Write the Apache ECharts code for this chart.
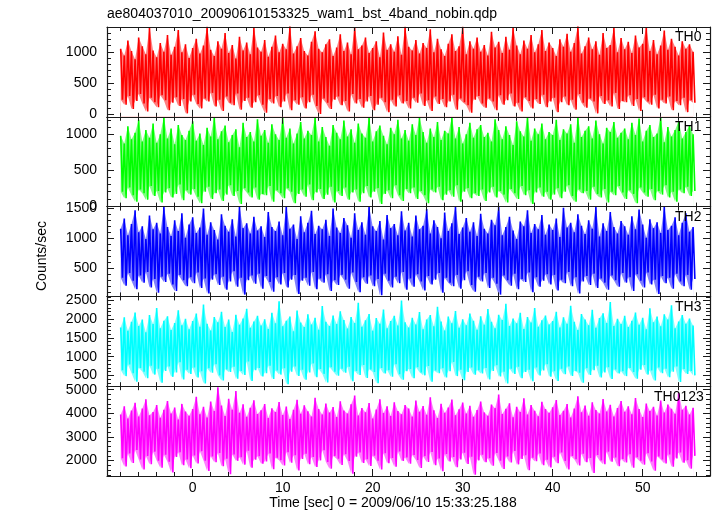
<!DOCTYPE html>
<html><head><meta charset="utf-8">
<script src="https://cdn.jsdelivr.net/npm/echarts@6/dist/echarts.min.js"></script>
<style>html,body{margin:0;padding:0;background:#fff}#c{width:717px;height:516px}</style>
</head><body><div id="c"></div>
<script>
const chartTitle = 'ae804037010_20090610153325_wam1_bst_4band_nobin.qdp';
const xTitle = 'Time [sec] 0 = 2009/06/10 15:33:25.188';
const yTitle = 'Counts/sec';
const panelNames = ['TH0', 'TH1', 'TH2', 'TH3', 'TH0123'];
const panelColors = ['#ff0000', '#00ff00', '#0000ff', '#00ffff', '#ff00ff'];
const startTime = -8;
const binSize = 0.2;

// peak (hi) and trough (lo) values of each time bin pair
const th0Hi = [1050,940,1180,1010,880,1230,1090,960,1390,1020,910,1140,1000,1270,950,1080,1350,990,1120,900,
1060,1210,970,1100,1400,1030,930,1170,1050,1300,980,1110,890,1240,1020,1150,960,1380,1070,1000,
1190,920,1080,1260,990,1130,1040,1410,970,1090,1220,1010,940,1160,1330,1050,990,1120,1200,930,
1070,1280,1010,1150,960,1390,1040,1100,1230,980,1060,1170,910,1310,1030,1120,1000,1250,950,1400,
1080,1020,1190,970,1140,1060,1360,990,1210,1040,930,1130,1280,1010,1090,1400,960,1170,1050,1230,
1000,1110,940,1320,1070,1160,980,1240,1030,1390,1100,960,1180,1050,1270,990,1120,1350,1010,1150,
1060,930,1200,1080,1290,1000,1140,1410,970,1090,1230,1040,1170,950,1300,1060,1110,1380,990,1220,
1040,1160,980,1260,1070,1130,1390,1010,1190,960,1100,1340,1030,1210,1080,940,1170,1050,1120,1000];
const th0Lo = [230,150,290,80,210,320,170,40,260,190,110,300,220,60,180,270,130,240,10,200,
310,160,90,250,200,340,120,230,50,280,180,140,330,70,210,260,100,190,300,150,
20,240,170,290,110,200,330,60,220,150,270,90,190,310,130,0,250,180,80,230,
280,140,210,40,320,170,240,100,200,290,60,150,260,190,30,230,120,300,170,210,
90,260,180,330,130,220,50,280,160,240,110,200,310,70,250,190,140,20,230,290,
170,100,250,200,60,300,150,220,330,120,180,40,270,210,90,240,160,310,110,200,
260,30,190,280,140,230,70,320,180,100,250,200,10,290,160,220,120,340,80,210,
190,300,130,240,50,270,200,150,310,90,230,170,280,60,210,140,260,30,220,180];

const th1Hi = [980,870,1110,930,1020,1200,900,1060,950,1150,880,1000,1240,940,1080,860,1130,990,920,1050,
1180,910,1010,850,1090,970,1240,930,1040,1120,890,990,1070,820,1160,960,1030,900,1210,980,
1060,880,1140,1000,920,1230,950,1080,870,1010,1170,940,1050,990,1240,900,1100,960,840,1130,
1020,930,1190,970,1070,880,1150,1010,950,1240,900,1040,1120,980,860,1090,1000,1200,940,1060,
910,1140,990,1230,1030,880,1080,960,1170,920,1050,1010,1240,940,1100,870,1000,1160,950,1070,
1130,960,1020,900,1210,1060,930,1110,990,850,1180,1040,970,1240,910,1080,1000,1150,930,1030,
990,1200,920,1070,1010,1140,880,1240,960,1050,1110,940,1190,1000,870,1090,1030,1170,950,1020,
1080,930,1160,990,1220,900,1050,1130,960,1010,1240,890,1100,970,1060,1180,940,1030,1120,1000];
const th1Lo = [200,110,260,150,60,230,180,90,280,140,210,50,190,250,120,170,300,80,220,160,
240,130,40,200,270,100,180,230,70,160,290,140,210,30,250,190,120,260,90,170,
150,280,60,220,180,110,250,200,40,170,230,130,300,80,190,240,100,160,270,50,
210,140,260,90,190,230,60,180,280,120,200,250,30,170,220,110,290,150,70,240,
180,260,100,210,150,40,230,190,270,80,160,220,130,290,60,200,250,110,180,140,
230,70,190,270,120,210,160,50,240,180,100,280,150,220,30,190,260,130,200,90,
160,250,110,200,290,140,60,230,180,210,90,270,170,120,240,50,200,150,280,190,
100,220,170,40,260,190,130,240,80,210,160,290,120,200,60,230,180,270,140,210];

const th2Hi = [1160,1330,1050,1240,1470,1100,1200,990,1380,1150,1260,1080,1530,1190,1040,1300,1120,1420,1010,1230,
1350,1090,1180,1500,1060,1270,1140,980,1400,1210,1110,1320,1030,1530,1170,1250,1080,1360,1130,1200,
1020,1440,1190,1120,1280,1050,1530,1160,1230,990,1370,1100,1260,1460,1070,1210,1150,1310,1040,1500,
1180,1090,1340,1220,1010,1420,1140,1270,1060,1530,1200,1120,1290,980,1390,1170,1240,1050,1450,1130,
1260,1030,1380,1150,1210,1490,1080,1300,1190,1000,1430,1120,1250,1530,1070,1180,1340,1110,1270,1040,
1410,1160,1080,1310,1220,1530,1050,1190,1360,1130,990,1280,1200,1470,1090,1240,1150,1390,1060,1230,
1140,1330,1020,1510,1180,1260,1100,1400,1210,1070,1300,1160,1530,1030,1250,1120,1440,1190,1080,1290,
1200,1060,1370,1150,1480,1230,1010,1320,1170,1270,1090,1530,1140,1210,1350,1050,1260,1420,1110,1190];
const th2Lo = [340,210,420,290,150,380,260,440,180,320,90,360,270,410,230,120,390,300,200,350,
250,430,170,330,80,310,400,220,360,140,280,450,190,340,60,300,380,240,410,160,
370,270,110,350,230,420,180,310,390,70,290,340,210,440,150,330,260,400,120,300,
220,390,310,160,430,270,100,350,240,380,200,320,50,410,290,180,360,250,440,140,
330,190,400,280,130,370,230,310,420,90,340,260,200,390,160,300,450,220,110,360,
280,420,170,340,240,60,380,300,210,410,150,320,270,430,100,350,190,290,400,230,
390,130,310,250,440,200,350,80,280,370,220,410,170,330,260,140,380,300,190,420,
260,350,120,400,290,180,430,230,310,70,370,250,340,160,410,280,200,390,140,320];

const th3Hi = [1780,2050,1690,1930,2180,1820,1990,1650,2110,1870,2300,1760,1960,2080,1710,1900,2240,1840,2010,1730,
1950,2150,1800,2390,1880,1700,2060,1920,2200,1790,1990,1660,2120,1850,2020,2280,1770,1940,2090,1830,
2000,1740,2170,1890,2480,1810,1960,2070,1680,2230,1910,1790,2130,1860,2040,1720,2350,1930,1820,2100,
1870,2210,1980,1750,2060,1900,2440,1800,1970,2140,1690,2030,1880,2260,1760,1950,2090,1830,2500,1920,
1780,2040,1860,2190,1730,1990,2110,1810,2330,1940,1700,2070,1890,2220,1770,2000,1840,2150,1960,1720,
2080,1850,2270,1930,1760,2120,1980,2410,1820,2020,1890,2170,1740,2060,1910,2300,1800,1970,2100,1860,
1950,2200,1780,2050,1880,2360,1930,1710,2140,1990,1840,2250,1770,2030,2160,1900,2460,1820,2010,1870,
2090,1790,1960,2180,1850,2040,1730,2290,1920,2070,1810,2130,1990,2370,1760,1940,2110,1880,2020,1830];
const th3Lo = [640,480,790,560,330,700,600,420,760,520,680,300,620,740,460,580,850,390,650,540,
710,440,610,280,690,570,800,500,360,660,590,730,410,620,510,870,350,640,700,470,
560,760,400,630,520,690,260,600,740,480,650,380,580,820,450,670,540,310,720,600,
490,680,570,730,340,620,510,780,430,660,590,290,700,550,640,460,800,530,380,610,
670,420,720,580,500,750,330,630,560,690,440,610,860,480,650,370,590,710,520,640,
550,700,390,620,770,470,600,280,680,540,730,420,590,650,340,710,500,630,800,460,
610,350,680,530,740,480,620,570,300,690,510,640,760,440,580,720,400,660,550,610,
480,700,590,410,650,780,520,630,360,710,560,680,450,600,740,320,670,540,620,500];

const th0123Hi = [3950,4300,3780,4120,4450,3870,4200,4600,3920,4060,4350,3810,4150,4520,3990,4250,3740,4400,4080,3900,
4180,4700,3960,4280,3820,4500,4100,5100,4330,3890,4620,4150,4950,4020,4380,3850,4240,4550,3970,4130,
4400,3800,4210,4060,4480,3930,4290,3760,4150,4570,3980,4340,4090,3870,4660,4180,3950,4420,4030,4270,
3840,4510,4120,3990,4380,4750,3910,4230,4050,4440,3780,4160,4600,4010,4300,3890,4470,4100,3960,4350,
4200,3860,4540,4070,4310,3940,4680,4130,3800,4410,4020,4250,4580,3920,4170,4460,3990,4320,3850,4140,
4500,4040,3900,4370,4220,4800,3970,4190,4430,3830,4280,4060,4640,3950,4350,4110,3880,4490,4180,4020,
4260,4560,3930,4110,4390,3820,4200,4720,4050,4330,3900,4470,4140,3990,4610,4080,4360,3870,4230,4520,
4070,4300,3960,4650,4180,3840,4420,4100,4280,3910,4540,4030,4370,4190,3980,4860,4150,4320,3950,4240];
const th0123Lo = [2100,1750,2300,1900,2450,2050,1620,2200,1850,2380,2000,1700,2250,1950,1500,2150,2350,1800,2050,1680,
2220,1880,2400,2000,1560,2180,1930,2320,1760,2080,1420,2260,1990,2140,1830,2420,1700,2040,2190,1870,
1960,2300,1640,2120,2020,1790,2360,1910,2230,1580,2070,2290,1850,2150,1730,2010,2440,1940,1660,2200,
2080,1820,2270,1990,1450,2160,2340,1900,2060,1770,2210,2000,1630,2310,1890,2110,1740,2390,1980,2130,
1870,2240,2030,1690,2190,1940,2370,1800,2090,1550,2280,1960,2150,1720,2050,2330,1860,2170,1400,2010,
2250,1930,2100,1780,2320,2000,1650,2180,1920,2410,1840,2070,2230,1590,2120,1970,2300,1810,2040,1710,
2160,1890,2350,1980,1620,2200,2060,1790,2290,1930,2110,1480,2240,2010,1850,2380,1950,2130,1760,2070,
1920,2270,1700,2140,2000,1830,2310,1960,1570,2180,2050,1880,2260,1740,2090,2340,1910,2020,1660,2200];

const xMin = -9.52, xMax = 57.48;
const xMajorTicks = [0, 10, 20, 30, 40, 50];
const xMinorStep = 2;
const yMins = [-45, -7, 30, 210, 1349];
const yMaxs = [1398, 1243, 1530, 2610, 5149];
const yMajorTicks = [[0, 500, 1000], [0, 500, 1000], [500, 1000, 1500], [500, 1000, 1500, 2000, 2500], [2000, 3000, 4000, 5000]];
const yMinorSteps = [100, 100, 100, 100, 200];

const hiSets = [th0Hi, th1Hi, th2Hi, th3Hi, th0123Hi];
const loSets = [th0Lo, th1Lo, th2Lo, th3Lo, th0123Lo];

const FONT = '"Liberation Sans", Arial, Helvetica, sans-serif';
const frameColor = '#1a1a1a';
const gridLeft = 107, gridWidth = 603, gridTop0 = 27, panelH = 89.8;
const plainNum = v => String(v);

function stepTicks(lo, hi, step, exclude) {
  const out = [];
  for (let v = Math.ceil(lo / step) * step; v <= hi; v += step) {
    if (exclude.indexOf(v) < 0) out.push(v);
  }
  return out;
}
const xMinorTicks = stepTicks(-8, 56, xMinorStep, xMajorTicks);

function mkX(gi, pos, ticks, len, showLine, labels) {
  return {
    type: 'value', gridIndex: gi, position: pos, min: xMin, max: xMax, z: 5,
    axisLine: { show: showLine, onZero: false, lineStyle: { color: frameColor, width: 1.2 } },
    axisTick: { show: true, inside: true, length: len, customValues: ticks, lineStyle: { color: frameColor, width: 1 } },
    axisLabel: labels ? { show: true, customValues: labels, formatter: plainNum, margin: 5, fontSize: 14, color: '#000', fontFamily: FONT } : { show: false },
    splitLine: { show: false }
  };
}
function mkY(gi, pos, ticks, len, showLine, labels) {
  return {
    type: 'value', gridIndex: gi, position: pos, min: yMins[gi], max: yMaxs[gi], z: 5,
    axisLine: { show: showLine, onZero: false, lineStyle: { color: frameColor, width: 1.2 } },
    axisTick: { show: true, inside: true, length: len, customValues: ticks, lineStyle: { color: frameColor, width: 1 } },
    axisLabel: labels ? { show: true, customValues: labels, formatter: plainNum, margin: 10, fontSize: 14, color: '#000', fontFamily: FONT } : { show: false },
    splitLine: { show: false }
  };
}

const grids = [], xAxes = [], yAxes = [], series = [], graphics = [];
for (let i = 0; i < 5; i++) {
  grids.push({ left: gridLeft, width: gridWidth, top: gridTop0 + i * panelH, height: panelH, containLabel: false });
  const isLast = i === 4;
  xAxes.push(mkX(i, 'bottom', xMajorTicks, 7, true, isLast ? xMajorTicks : null));
  xAxes.push(mkX(i, 'bottom', xMinorTicks, 4, false, null));
  xAxes.push(mkX(i, 'top', xMajorTicks, 7, true, null));
  xAxes.push(mkX(i, 'top', xMinorTicks, 4, false, null));
  const yMin = stepTicks(yMins[i], yMaxs[i], yMinorSteps[i], yMajorTicks[i]);
  yAxes.push(mkY(i, 'left', yMajorTicks[i], 7, true, yMajorTicks[i]));
  yAxes.push(mkY(i, 'left', yMin, 4, false, null));
  yAxes.push(mkY(i, 'right', yMajorTicks[i], 7, true, null));
  yAxes.push(mkY(i, 'right', yMin, 4, false, null));

  const hi = hiSets[i], lo = loSets[i];
  const n = Math.min(hi.length, lo.length);
  const data = [], hiPts = [], loPts = [];
  for (let k = 0; k < n; k++) {
    const tHi = startTime + binSize * (2 * k), tLo = startTime + binSize * (2 * k + 1);
    data.push([tHi, hi[k]]);
    data.push([tLo, lo[k]]);
    hiPts.push([tHi, hi[k]]);
    loPts.push([tHi, lo[k]]);
  }
  const base = { type: 'line', xAxisIndex: i * 4, yAxisIndex: i * 4, showSymbol: false, symbol: 'none', clip: true, animation: false, silent: true };
  // envelope of the peaks: translucent colour
  series.push(Object.assign({}, base, { name: panelNames[i] + ' peaks', data: hiPts, z: 2,
    lineStyle: { width: 0, opacity: 0 }, areaStyle: { color: panelColors[i], opacity: 0.5, origin: 'start' } }));
  // below the troughs: background
  series.push(Object.assign({}, base, { name: panelNames[i] + ' troughs', data: loPts, z: 3,
    lineStyle: { width: 0, opacity: 0 }, areaStyle: { color: '#ffffff', opacity: 1, origin: 'start' } }));
  // the light curve
  series.push(Object.assign({}, base, { name: panelNames[i], data: data, z: 4,
    lineStyle: { color: panelColors[i], width: 1.6 }, itemStyle: { color: panelColors[i] } }));
}

const labelLeft = [675, 675, 675, 675, 654];
for (let i = 0; i < 5; i++) {
  graphics.push({ type: 'text', z: 10, style: { text: panelNames[i], x: labelLeft[i], y: 37.5 + i * panelH,
    textVerticalAlign: 'middle', textAlign: 'left', font: '14px ' + FONT, fill: '#000' } });
}
graphics.push({ type: 'text', z: 10, style: { text: chartTitle, x: 107, y: 14.5, textAlign: 'left', textVerticalAlign: 'middle', font: '14px ' + FONT, fill: '#000' } });
graphics.push({ type: 'text', z: 10, style: { text: xTitle, x: 393, y: 503, textAlign: 'center', textVerticalAlign: 'middle', font: '14px ' + FONT, fill: '#000' } });
graphics.push({ type: 'text', z: 10, x: 42, y: 256, rotation: Math.PI / 2, style: { text: yTitle, x: 0, y: 0, textAlign: 'center', textVerticalAlign: 'middle', font: '14px ' + FONT, fill: '#000' } });

const chart = echarts.init(document.getElementById('c'), null, { renderer: 'canvas' });
chart.setOption({
  animation: false,
  backgroundColor: '#ffffff',
  grid: grids, xAxis: xAxes, yAxis: yAxes, series: series, graphic: graphics
});
</script></body></html>
